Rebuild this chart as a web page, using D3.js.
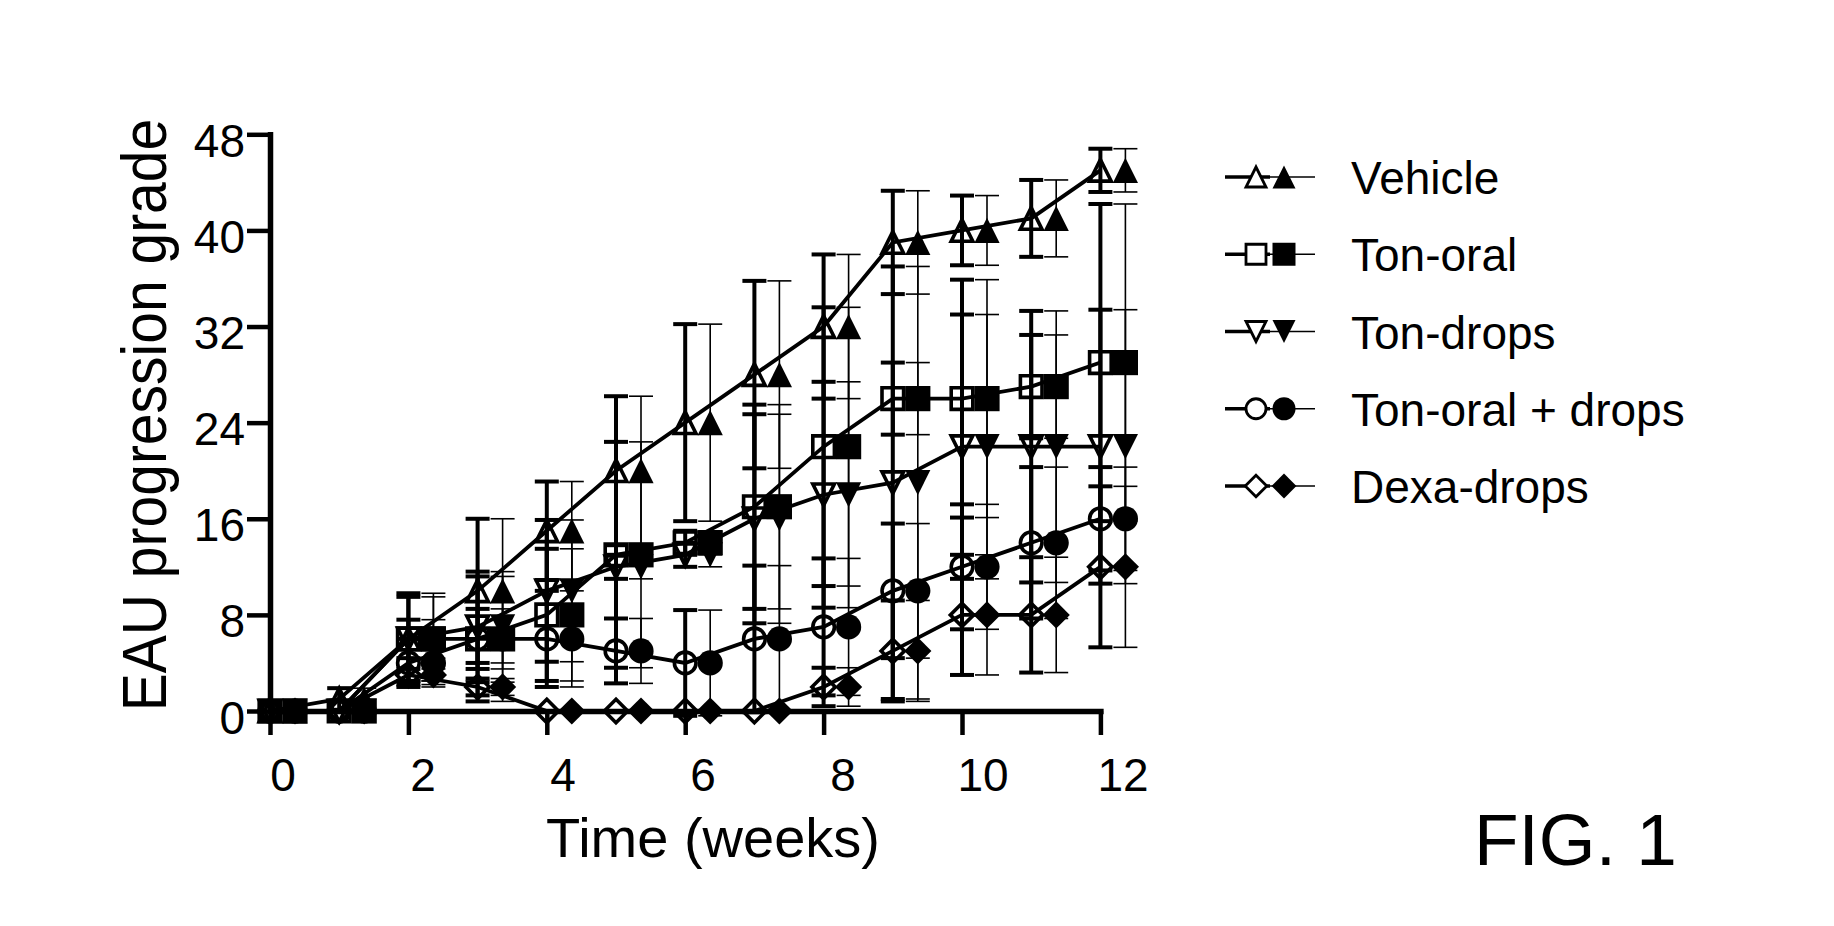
<!DOCTYPE html>
<html>
<head>
<meta charset="utf-8">
<script src="https://cdn.jsdelivr.net/npm/d3@7"></script>
<style>
  body { margin: 0; background: #fff; }
  text { font-family: 'Liberation Sans', Arial, sans-serif; fill: #000; }
</style>
</head>
<body>
<script>
var width  = 1834
var height = 926

// weeks on the x axis
var weeks = [0, 1, 2, 3, 4, 5, 6, 7, 8, 9, 10, 11, 12]

// mean grade and error per group
var vehicle         = [0, 1, 6, 10, 15, 20, 24, 28, 32, 39, 40, 41, 45]
var vehicleErr      = [0, 0.9, 3.8, 6, 4.1, 6.2, 8.2, 7.8, 6, 4.3, 2.9, 3.2, 1.8]
var tonOral         = [0, 0, 6, 6, 8, 13, 14, 17, 22, 26, 26, 27, 29]
var tonOralErr      = [0, 0, 3.5, 5.2, 5.5, 9.4, 1, 8.5, 11.6, 3, 9.9, 4.3, 13.2]
var tonDrops        = [0, 0, 6, 7, 10, 12, 13, 16, 18, 19, 22, 22, 22]
var tonDropsErr     = [0, 0, 1.6, 4.6, 5.9, 1, 1, 8.7, 9.4, 18, 11, 11.3, 11.4]
var tonOralDrops    = [0, 0, 4, 6, 6, 5, 4, 6, 7, 10, 12, 14, 16]
var tonOralDropsErr = [0, 0, 2, 2.5, 4, 2.7, 4.4, 6.1, 5.7, 5.6, 5.2, 6.3, 4.3]
var dexaDrops       = [0, 0, 3, 2, 0, 0, 0, 0, 2, 5, 8, 8, 12]
var dexaDropsErr    = [0, 0, 0.5, 0.7, 0, 0, 0, 0, 1.6, 4.2, 5, 4.8, 6.7]

var seriesNames = ['Vehicle', 'Ton-oral', 'Ton-drops', 'Ton-oral + drops', 'Dexa-drops']
var xTicks = [0, 2, 4, 6, 8, 10, 12]
var yTicks = [0, 8, 16, 24, 32, 40, 48]

// custom marker shapes, size = half width
var triUp   = { draw: (c, r) => { c.moveTo(0, -r); c.lineTo(r, r); c.lineTo(-r, r); c.closePath() } }
var triDown = { draw: (c, r) => { c.moveTo(0, r); c.lineTo(r, -r); c.lineTo(-r, -r); c.closePath() } }
var square  = { draw: (c, r) => { c.rect(-r, -r, 2 * r, 2 * r) } }
var circle  = { draw: (c, r) => { c.moveTo(r, 0); c.arc(0, 0, r, 0, 2 * Math.PI) } }
var diamond = { draw: (c, r) => { r = r * 1.08; c.moveTo(0, -r); c.lineTo(r, 0); c.lineTo(0, r); c.lineTo(-r, 0); c.closePath() } }

var series = [
  { name: seriesNames[0], mean: vehicle,      err: vehicleErr,      shape: triUp },
  { name: seriesNames[1], mean: tonOral,      err: tonOralErr,      shape: square },
  { name: seriesNames[2], mean: tonDrops,     err: tonDropsErr,     shape: triDown },
  { name: seriesNames[3], mean: tonOralDrops, err: tonOralDropsErr, shape: circle },
  { name: seriesNames[4], mean: dexaDrops,    err: dexaDropsErr,    shape: diamond }
]
series.forEach(s => {
  s.points = weeks.map((w, i) => ({ w: w, v: s.mean[i], e: s.err[i] }))
})

var nudge = 25   // filled set drawn a bit right of the open set
var capW  = 12
var markR = 10.8

var svg = d3.select('body')
  .append('svg')
  .attr('width', width)
  .attr('height', height)

var xScale = d3.scaleLinear().domain([0, 12]).range([270, 1100.4])
var yScale = d3.scaleLinear().domain([0, 48]).range([711, 134.3])
var xLabelScale = d3.scaleLinear().domain([0, 12]).range([283, 1123])

// axes
var yAxis = d3.axisLeft(yScale)
  .tickValues(yTicks)
  .tickSize(23)
  .tickSizeOuter(0)
  .tickPadding(2)

var gy = svg.append('g')
  .attr('transform', 'translate(270,0)')
  .call(yAxis)
gy.select('.domain').attr('stroke-width', 5.5).attr('stroke-linecap', 'square')
gy.selectAll('.tick line').attr('stroke-width', 4.5)
gy.selectAll('.tick text')
  .attr('font-size', 46)
  .attr('font-family', "'Liberation Sans', Arial, sans-serif")
  .attr('dy', '0.48em')

var xAxis = d3.axisBottom(xScale)
  .tickValues(xTicks)
  .tickSize(24)
  .tickSizeOuter(0)
  .tickFormat('')

var gx = svg.append('g')
  .attr('transform', 'translate(0,711)')
  .call(xAxis)
gx.select('.domain').attr('stroke-width', 5.5).attr('stroke-linecap', 'square')
gx.selectAll('.tick line').attr('stroke-width', 4.5)

svg.append('g')
  .selectAll('text')
  .data(xTicks)
  .enter()
  .append('text')
  .attr('x', d => xLabelScale(d))
  .attr('y', 790.5)
  .attr('text-anchor', 'middle')
  .attr('font-size', 46)
  .text(d => d)

// axis titles
svg.append('text')
  .attr('transform', 'translate(166,415) rotate(-90) scale(1,1.1)')
  .attr('text-anchor', 'middle')
  .attr('font-size', 57)
  .text('EAU progression grade')

svg.append('text')
  .attr('x', 713)
  .attr('y', 857)
  .attr('text-anchor', 'middle')
  .attr('font-size', 56)
  .text('Time (weeks)')

svg.append('text')
  .attr('x', 1474)
  .attr('y', 865)
  .attr('font-size', 73)
  .text('FIG. 1')

// connecting lines (open set)
var line = d3.line()
  .x(d => xScale(d.w))
  .y(d => yScale(d.v))

svg.append('g')
  .selectAll('path')
  .data(series)
  .enter()
  .append('path')
  .attr('d', d => line(d.points))
  .attr('fill', 'none')
  .attr('stroke', '#000')
  .attr('stroke-width', 3.8)

// error bars: thick for open set, thin for filled set
function errorBars(g, pts, dx, sw) {
  var bars = g.selectAll('g')
    .data(pts.filter(p => p.e > 0))
    .enter()
    .append('g')
    .attr('stroke', '#000')
    .attr('stroke-width', sw)
  bars.append('line')
    .attr('x1', d => xScale(d.w) + dx)
    .attr('x2', d => xScale(d.w) + dx)
    .attr('y1', d => yScale(d.v - d.e))
    .attr('y2', d => yScale(d.v + d.e))
  bars.append('line')
    .attr('x1', d => xScale(d.w) + dx - capW)
    .attr('x2', d => xScale(d.w) + dx + capW)
    .attr('y1', d => yScale(d.v + d.e))
    .attr('y2', d => yScale(d.v + d.e))
  bars.append('line')
    .attr('x1', d => xScale(d.w) + dx - capW)
    .attr('x2', d => xScale(d.w) + dx + capW)
    .attr('y1', d => yScale(d.v - d.e))
    .attr('y2', d => yScale(d.v - d.e))
}

series.forEach(s => {
  errorBars(svg.append('g'), s.points, 0, 4)
  errorBars(svg.append('g'), s.points, nudge, 1.6)
})

// markers
series.forEach(s => {
  var sym = d3.symbol().type(s.shape).size(markR)
  svg.append('g')
    .selectAll('path')
    .data(s.points)
    .enter()
    .append('path')
    .attr('transform', d => 'translate(' + [xScale(d.w), yScale(d.v)] + ')')
    .attr('d', sym)
    .attr('fill', 'none')
    .attr('stroke', '#000')
    .attr('stroke-width', 3.6)
})
series.forEach(s => {
  var sym = d3.symbol().type(s.shape).size(markR + 1.8)
  svg.append('g')
    .selectAll('path')
    .data(s.points)
    .enter()
    .append('path')
    .attr('transform', d => 'translate(' + [xScale(d.w) + nudge, yScale(d.v)] + ')')
    .attr('d', sym)
    .attr('fill', '#000')
})

// legend
var legendY = d3.scalePoint().domain(seriesNames).range([177, 486])

var legend = svg.append('g')
  .selectAll('g')
  .data(series)
  .enter()
  .append('g')
  .attr('transform', d => 'translate(0,' + legendY(d.name) + ')')

legend.append('line')
  .attr('x1', 1225).attr('x2', 1270)
  .attr('stroke', '#000').attr('stroke-width', 3.4)
legend.append('line')
  .attr('x1', 1270).attr('x2', 1315)
  .attr('stroke', '#000').attr('stroke-width', 1.6)
legend.append('path')
  .attr('transform', 'translate(1256,0)')
  .attr('d', d => d3.symbol().type(d.shape).size(10)())
  .attr('fill', '#fff')
  .attr('stroke', '#000')
  .attr('stroke-width', 2.8)
legend.append('path')
  .attr('transform', 'translate(1284,0)')
  .attr('d', d => d3.symbol().type(d.shape).size(11.5)())
  .attr('fill', '#000')
legend.append('text')
  .attr('x', 1351)
  .attr('y', 17)
  .attr('font-size', 46)
  .text(d => d.name)
</script>
</body>
</html>
